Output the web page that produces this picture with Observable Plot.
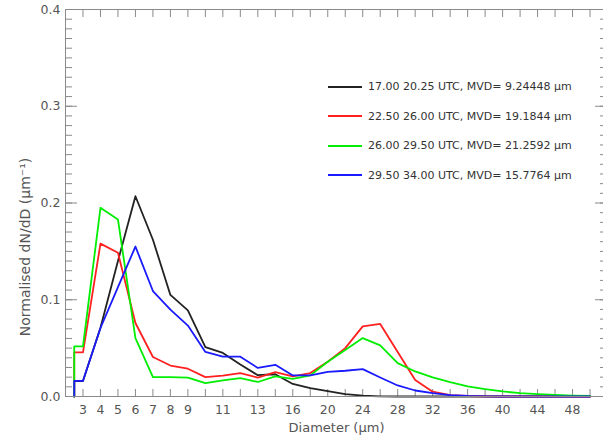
<!DOCTYPE html>
<html>
<head>
<meta charset="utf-8">
<script src="https://cdn.jsdelivr.net/npm/d3@7"></script>
<script src="https://cdn.jsdelivr.net/npm/@observablehq/plot@0.6"></script>
<style>
  body { margin: 0; background: #fff; }
  #chart { position: relative; width: 603px; height: 435px; font-family: "DejaVu Sans", sans-serif; }
  #chart svg { display: block; }
  .legend { position: absolute; left: 328px; top: 72px; font-size: 11px; color: #333; }
  .legend .row { display: flex; align-items: center; height: 29.5px; white-space: nowrap; }
  .legend .swatch { width: 34px; height: 0; border-top: 2px solid; margin-right: 6px; }
</style>
</head>
<body>
<div id="chart"></div>
<script>
// CDP bin diameters (µm); bins are plotted evenly spaced by bin number
const diameters = [3, 4, 5, 6, 7, 8, 9, 10, 11, 12, 13, 14, 16, 18, 20, 22, 24, 26, 28, 30,
                   32, 34, 36, 38, 40, 42, 44, 46, 48, 50];

// Which bins carry a tick label
const labelledDiameters = [3, 4, 5, 6, 7, 8, 9, 11, 13, 16, 20, 24, 28, 32, 36, 40, 44, 48];

// Normalised size distributions, one value per bin
const run1 = [0.016, 0.071, 0.140, 0.207, 0.162, 0.105, 0.089, 0.051, 0.045, 0.033,
              0.022, 0.023, 0.013, 0.0086, 0.0056, 0.0025, 0.0008, 0.0002, 0, 0,
              0, 0, 0, 0, 0, 0, 0, 0, 0, 0];
const run2 = [0.0456, 0.158, 0.1485, 0.076, 0.0408, 0.032, 0.0287, 0.020, 0.0216, 0.0242,
              0.0196, 0.0252, 0.0207, 0.0242, 0.036, 0.050, 0.0725, 0.075, 0.046, 0.017,
              0.005, 0.0015, 0.0005, 0.0002, 0, 0, 0, 0, 0, 0];
const run3 = [0.0518, 0.195, 0.183, 0.0604, 0.020, 0.020, 0.0195, 0.0138, 0.0166, 0.019,
              0.015, 0.0207, 0.0183, 0.0218, 0.036, 0.048, 0.0604, 0.0528, 0.0345, 0.0259,
              0.0197, 0.0148, 0.0104, 0.0076, 0.0052, 0.0034, 0.0024, 0.0017, 0.001, 0.0005];
const run4 = [0.0162, 0.0708, 0.113, 0.155, 0.109, 0.0898, 0.0733, 0.0461, 0.0412, 0.0412,
              0.0295, 0.0328, 0.0218, 0.0218, 0.0255, 0.0266, 0.0283, 0.0197, 0.0114, 0.0062,
              0.0034, 0.0015, 0.0006, 0.0002, 0, 0, 0, 0, 0, 0];

const seriesNames = [
  "17.00 20.25 UTC, MVD= 9.24448 \u03bcm",
  "22.50 26.00 UTC, MVD= 19.1844 \u03bcm",
  "26.00 29.50 UTC, MVD= 21.2592 \u03bcm",
  "29.50 34.00 UTC, MVD= 15.7764 \u03bcm"
];
const seriesValues = [run1, run2, run3, run4];
const seriesColors = ["#222222", "#ff2020", "#00ee00", "#1a1aff"];

const yMajor = [0, 0.1, 0.2, 0.3, 0.4];
const yMinor = d3.range(0, 41).map(k => k / 100);

// Layout
const W = 603, H = 435;
const mLeft = 65, mRight = -4, mTop = 9, mBottom = 39;
const frameW = W - mLeft - mRight, frameH = H - mTop - mBottom;
const axisColor = "#8a8a8a", textColor = "#555";

// Each curve starts at the left edge of the first bin, rising from zero
const rows = seriesValues.flatMap((vals, s) => [
  {s, i: -0.5, v: 0},
  {s, i: -0.5, v: vals[0]},
  ...vals.map((v, i) => ({s, i, v}))
]);

const binIdx = diameters.map((d, i) => i);
const labelIdx = labelledDiameters.map(d => diameters.indexOf(d));

const plot = Plot.plot({
  width: W, height: H,
  marginLeft: mLeft, marginRight: mRight, marginTop: mTop, marginBottom: mBottom,
  style: {fontFamily: "DejaVu Sans, sans-serif", fontSize: "12.5px", color: textColor, background: "#fff"},
  x: {domain: [-1, diameters.length], axis: null},
  y: {domain: [0, 0.4], axis: null},
  marks: [
    // tick marks on all four sides
    Plot.ruleX(binIdx, {x: d => d, insetTop: frameH - 7, stroke: axisColor}),
    Plot.ruleX(binIdx, {x: d => d, insetBottom: frameH - 8, stroke: axisColor}),
    Plot.ruleY(yMinor, {y: d => d, insetRight: frameW - 7, stroke: axisColor}),
    Plot.ruleY(yMajor, {y: d => d, insetRight: frameW - 12, stroke: axisColor}),
    Plot.ruleY(yMinor, {y: d => d, insetLeft: frameW - 7, stroke: axisColor}),
    Plot.ruleY(yMajor, {y: d => d, insetLeft: frameW - 12, stroke: axisColor}),
    // tick labels
    Plot.axisX(labelIdx, {tickSize: 0, tickPadding: 9, tickFormat: i => diameters[i], label: null, fill: textColor}),
    Plot.axisY(yMajor, {tickSize: 0, tickPadding: 5, tickFormat: d3.format(".1f"), label: null, fill: textColor}),
    // axis titles
    Plot.text(["Diameter (\u03bcm)"], {frameAnchor: "bottom", lineAnchor: "middle", textAnchor: "middle", dy: 31, fontSize: 13, fill: textColor}),
    Plot.text(["Normalised dN/dD (\u03bcm\u207b\u00b9)"], {frameAnchor: "left", textAnchor: "middle", lineAnchor: "middle", rotate: -90, dx: -40, dy: 44, fontSize: 14, fill: textColor, style: "letter-spacing: 1.5px"}),
    // curves
    Plot.line(rows, {x: "i", y: "v", z: "s", stroke: d => seriesColors[d.s], strokeWidth: 1.8}),
    // box
    Plot.ruleY([0], {stroke: axisColor}),
    Plot.ruleY([0.4], {stroke: axisColor}),
    Plot.ruleX([-1], {stroke: axisColor})
  ]
});

const chart = document.getElementById("chart");
chart.appendChild(plot);

const legend = document.createElement("div");
legend.className = "legend";
seriesNames.forEach((name, s) => {
  const row = document.createElement("div");
  row.className = "row";
  const sw = document.createElement("span");
  sw.className = "swatch";
  sw.style.borderColor = seriesColors[s];
  const label = document.createElement("span");
  label.textContent = name;
  row.appendChild(sw);
  row.appendChild(label);
  legend.appendChild(row);
});
chart.appendChild(legend);
</script>
</body>
</html>
